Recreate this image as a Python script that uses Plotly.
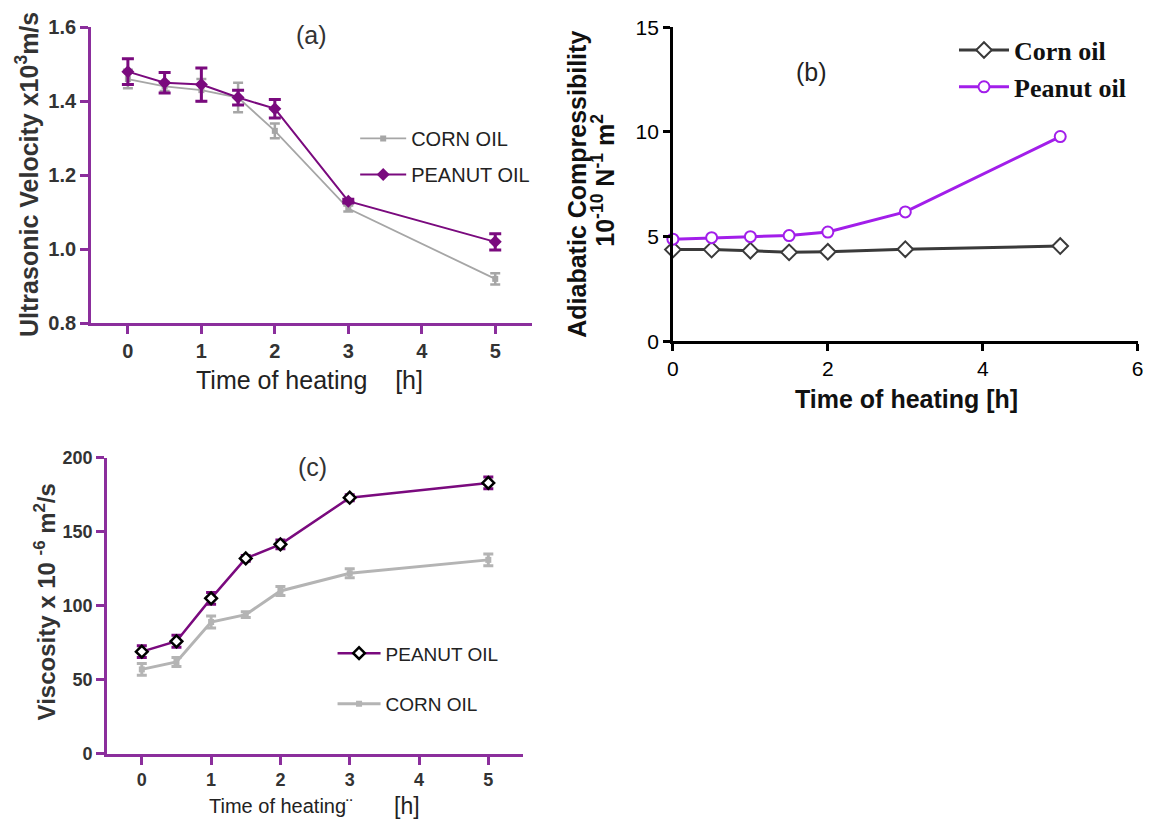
import plotly.graph_objects as go

# ---------------- data ----------------
hours = [0, 0.5, 1, 1.5, 2, 3, 5]

# (a) ultrasonic velocity x10^3 m/s
vel_corn = [1.46, 1.44, 1.43, 1.41, 1.32, 1.11, 0.92]
vel_corn_err = [0.025, 0.012, 0.03, 0.04, 0.02, 0.008, 0.015]
vel_peanut = [1.48, 1.45, 1.445, 1.41, 1.38, 1.13, 1.02]
vel_peanut_err = [0.035, 0.028, 0.045, 0.02, 0.025, 0.005, 0.022]

# (b) adiabatic compressibility 10^-10 N^-1 m^2
comp_corn = [4.38, 4.38, 4.33, 4.25, 4.28, 4.4, 4.55]
comp_peanut = [4.88, 4.95, 5.0, 5.05, 5.22, 6.18, 9.78]

# (c) viscosity x10^-6 m^2/s
visc_peanut = [69, 76, 105, 132, 141.5, 173, 183]
visc_peanut_err = [4, 4, 4, 2, 3, 2, 4]
visc_corn = [57, 62, 89, 94, 110, 122, 131]
visc_corn_err = [4, 3, 4, 2, 3, 3, 4]

PURPLE_AX = "#8B2E9C"
PEANUT = "#7A0A7E"
CORN = "#A6A6A6"
VIOLET = "#A21EEA"
DARK = "#3A3A3A"
FONT = "Liberation Sans, Arial, sans-serif"
SERIF = "Liberation Serif, Times New Roman, serif"

W, H = 1149, 832

# layout helpers: reference pixel position -> paper fraction
def fx(x):
    return (x - 5.8) / 0.99

def fy(y):
    return (y - 12.8) / 0.969

def px(x):
    return fx(x) / W

def py(y):
    return 1 - fy(y) / H

fig = go.Figure()

# ---------------- panel (a) ----------------
fig.add_trace(go.Scatter(
    x=hours, y=vel_corn, name="CORN OIL", mode="lines+markers",
    line=dict(color=CORN, width=1.8),
    marker=dict(symbol="square", size=6, color=CORN),
    error_y=dict(type="data", array=vel_corn_err, color=CORN, thickness=2.5, width=5),
    xaxis="x", yaxis="y", legend="legend", legendgroup="a1", cliponaxis=False))
fig.add_trace(go.Scatter(
    x=hours, y=vel_peanut, name="PEANUT OIL", mode="lines+markers",
    line=dict(color=PEANUT, width=2),
    marker=dict(symbol="diamond", size=10, color=PEANUT),
    error_y=dict(type="data", array=vel_peanut_err, color=PEANUT, thickness=3, width=6),
    xaxis="x", yaxis="y", legend="legend", legendgroup="a2", cliponaxis=False))

# ---------------- panel (b) ----------------
fig.add_trace(go.Scatter(
    x=hours, y=comp_corn, name="Corn oil", mode="lines+markers",
    line=dict(color=DARK, width=3),
    marker=dict(symbol="diamond", size=12, color="white", line=dict(color=DARK, width=2)),
    xaxis="x2", yaxis="y2", legend="legend2", legendgroup="b1", cliponaxis=False))
fig.add_trace(go.Scatter(
    x=hours, y=comp_peanut, name="Peanut oil", mode="lines+markers",
    line=dict(color=VIOLET, width=3),
    marker=dict(symbol="circle", size=11, color="white", line=dict(color=VIOLET, width=2)),
    xaxis="x2", yaxis="y2", legend="legend2", legendgroup="b2", cliponaxis=False))

# ---------------- panel (c) ----------------
fig.add_trace(go.Scatter(
    x=hours, y=visc_peanut, name="PEANUT OIL", mode="lines+markers",
    line=dict(color=PEANUT, width=2.5),
    marker=dict(symbol="diamond", size=9, color="white", line=dict(color="black", width=2.5)),
    error_y=dict(type="data", array=visc_peanut_err, color=PEANUT, thickness=3, width=5),
    xaxis="x3", yaxis="y3", legend="legend3", legendgroup="c1", cliponaxis=False))
fig.add_trace(go.Scatter(
    x=hours, y=visc_corn, name="CORN OIL", mode="lines+markers",
    line=dict(color="#B4B4B4", width=3),
    marker=dict(symbol="square", size=6, color="#B4B4B4"),
    error_y=dict(type="data", array=visc_corn_err, color="#B4B4B4", thickness=3, width=5),
    xaxis="x3", yaxis="y3", legend="legend3", legendgroup="c2", cliponaxis=False))

def purple_axis(size):
    return dict(showline=True, linecolor=PURPLE_AX, linewidth=3, ticks="outside",
                tickcolor=PURPLE_AX, tickwidth=2.5, ticklen=8, showgrid=False,
                zeroline=False,
                tickfont=dict(family=FONT, size=size, color="#333333", weight="bold"))

black_axis = dict(showline=True, linecolor="black", linewidth=2.5, ticks="outside",
                  tickcolor="black", tickwidth=2.5, ticklen=7, showgrid=False, zeroline=False,
                  ticklabeloverflow="allow",
                  tickfont=dict(family=FONT, size=21, color="black"))

fig.update_layout(
    width=W, height=H, margin=dict(l=0, r=0, t=0, b=0),
    paper_bgcolor="white", plot_bgcolor="white",
    xaxis=dict(domain=[px(91), px(532)], range=[-0.5, 5.5], tickvals=[0, 1, 2, 3, 4, 5],
               anchor="y", **purple_axis(20)),
    yaxis=dict(domain=[py(323), py(28)], range=[0.8, 1.6], tickvals=[0.8, 1.0, 1.2, 1.4, 1.6],
               ticktext=["0.8", "1.0", "1.2", "1.4", "1.6"], anchor="x", **purple_axis(20)),
    xaxis2=dict(domain=[px(673), px(1138)], range=[0, 6], tickvals=[0, 2, 4, 6], anchor="y2",
                **black_axis),
    yaxis2=dict(domain=[py(341), py(28)], range=[0, 15], tickvals=[0, 5, 10, 15], anchor="x2",
                **black_axis),
    xaxis3=dict(domain=[px(107), px(523)], range=[-0.5, 5.5], tickvals=[0, 1, 2, 3, 4, 5],
                anchor="y3", **purple_axis(18)),
    yaxis3=dict(domain=[py(752), py(457)], range=[0, 200], tickvals=[0, 50, 100, 150, 200],
                anchor="x3", **purple_axis(18)),
    legend=dict(x=0.3071, y=1 - 110 / H, xanchor="left", yanchor="top",
                bgcolor="rgba(0,0,0,0)",
                font=dict(family=FONT, size=20, color="#222222"), tracegroupgap=7,
                itemwidth=46),
    legend2=dict(x=958 / W, y=1 - 15 / H, xanchor="left", yanchor="top",
                 bgcolor="rgba(0,0,0,0)",
                 font=dict(family=SERIF, size=26, color="#111111", weight="bold"),
                 tracegroupgap=0, itemwidth=50),
    legend3=dict(x=330 / W, y=1 - 640 / H, xanchor="left", yanchor="top",
                 bgcolor="rgba(0,0,0,0)",
                 font=dict(family=FONT, size=19, color="#222222"), tracegroupgap=23,
                 itemwidth=43),
    showlegend=True,
)

ann = []
def add_text(text, x, y, size, color="#222222", angle=0, family=FONT, weight="normal",
             xanchor="center", yanchor="middle"):
    ann.append(dict(text=text, x=px(x), y=py(y), xref="paper", yref="paper",
                    showarrow=False, textangle=angle, xanchor=xanchor, yanchor=yanchor,
                    font=dict(family=family, size=size, color=color, weight=weight)))

add_text("(a)", 311, 36, 25, "#333333")
add_text("(b)", 812, 73, 25, "#222222")
add_text("(c)", 312, 466, 25, "#333333")

add_text("Ultrasonic Velocity x10<sup>3</sup>m/s", 27, 175, 25, "#333333", -90, weight="bold")
add_text("Adiabatic Compressibility", 577, 184, 25, "#111111", -90, weight="bold")
add_text("10<sup>-10</sup> N<sup>-1</sup> m<sup>2</sup>", 603, 180, 25, "#111111", -90,
         weight="bold")
add_text("Viscosity x 10 <sup>-6</sup> m<sup>2</sup>/s", 45, 601, 24, "#333333", -90,
         weight="bold")

add_text("Time of heating\u00a0\u00a0\u00a0\u00a0[h]", 309, 380, 25, "#222222")
add_text("Time of heating [h]", 907, 398, 25, "#111111", weight="bold")
add_text("Time of heating¨", 207, 804, 20, "#222222", xanchor="left")
ann.append(dict(text="[h]", x=px(407), y=0, xref="paper", yref="paper",
                showarrow=False, xanchor="center", yanchor="bottom",
                font=dict(family=FONT, size=23, color="#222222")))

fig.update_layout(annotations=ann)

fig.write_html("out.html")
